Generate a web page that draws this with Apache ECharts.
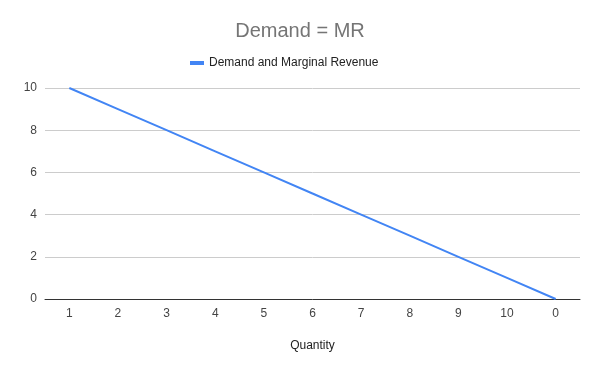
<!DOCTYPE html>
<html><head><meta charset="utf-8">
<script src="https://cdn.jsdelivr.net/npm/echarts@6/dist/echarts.min.js"></script>
<style>html,body{margin:0;padding:0;background:#fff}#c{width:600px;height:371px}</style>
</head><body><div id="c"></div>
<script>
const categories = ['1','2','3','4','5','6','7','8','9','10','0'];
const demandMR = [10,9,8,7,6,5,4,3,2,1,0];
const yTicks = {min:0, max:10, interval:2};
const F = 'Arial, "Liberation Sans", sans-serif';
const chart = echarts.init(document.getElementById('c'));
chart.setOption({
  animation:false,
  title:{text:'Demand = MR', left:'center', top:16, textStyle:{fontFamily:F, fontSize:20, fontWeight:'normal', color:'#757575'}},
  legend:{top:52, left:185, itemWidth:14, itemHeight:4, itemGap:10, icon:'rect', textStyle:{fontFamily:F, fontSize:12, color:'#222'}, data:['Demand and Marginal Revenue']},
  grid:{left:45, right:20, top:88, bottom:72},
  xAxis:{type:'category', data:categories, boundaryGap:true, name:'Quantity', nameLocation:'middle', nameGap:41,
    nameTextStyle:{fontFamily:F, fontSize:12, color:'#222'},
    axisLine:{lineStyle:{color:'#333', width:1}}, axisTick:{show:false},
    axisLabel:{fontFamily:F, fontSize:12, color:'#444', margin:9}},
  yAxis:{type:'value', min:yTicks.min, max:yTicks.max, interval:yTicks.interval,
    axisLine:{show:false}, axisTick:{show:false},
    axisLabel:{fontFamily:F, fontSize:12, color:'#444', margin:8},
    splitLine:{lineStyle:{color:'#ccc', width:1}}},
  series:[{name:'Demand and Marginal Revenue', type:'line', data:demandMR, showSymbol:false, symbol:'none',
    lineStyle:{color:'#4285F4', width:2}, itemStyle:{color:'#4285F4'}}]
});
</script></body></html>
